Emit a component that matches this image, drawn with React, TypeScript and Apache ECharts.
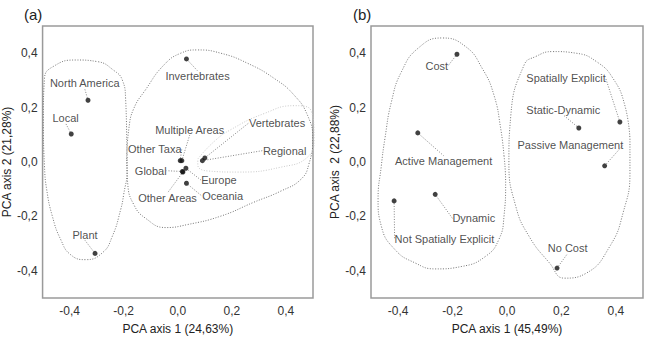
import React, { useEffect, useRef } from 'react';
import * as echarts from 'echarts';

// Panel (a)
const namesA = ['North America', 'Local', 'Plant', 'Invertebrates', 'Multiple Areas', 'Other Taxa', 'Global', 'Other Areas', 'Europe', 'Oceania', 'Vertebrates', 'Regional'];
const xA = [-0.332, -0.394, -0.306, 0.032, 0.015, 0.009, 0.017, 0.019, 0.030, 0.032, 0.100, 0.091];
const yA = [0.227, 0.103, -0.336, 0.379, 0.005, 0.005, -0.035, -0.037, -0.023, -0.078, 0.015, 0.005];

// Panel (b)
const namesB = ['Cost', 'Active Management', 'Dynamic', 'Not Spatially Explicit', 'Spatially Explicit', 'Static-Dynamic', 'Passive Management', 'No Cost'];
const xB = [-0.184, -0.328, -0.264, -0.415, 0.415, 0.264, 0.359, 0.184];
const yB = [0.396, 0.107, -0.119, -0.143, 0.147, 0.125, -0.014, -0.39];

const tickValues = [-0.4, -0.2, 0, 0.2, 0.4];
const xNameA = 'PCA axis 1 (24,63%)';
const yNameA = 'PCA axis 2 (21,28%)';
const xNameB = 'PCA axis 1 (45,49%)';
const yNameB = 'PCA axis  2 (22,88%)';

// hull outlines (data coordinates)
const hullA1 = [[-0.189, 0.085], [-0.187, -0.026], [-0.2, -0.119], [-0.211, -0.174], [-0.242, -0.273], [-0.279, -0.334], [-0.341, -0.359], [-0.396, -0.341], [-0.433, -0.285], [-0.464, -0.199], [-0.485, -0.1], [-0.493, -0.014], [-0.497, 0.159], [-0.493, 0.307], [-0.459, 0.352], [-0.378, 0.375], [-0.297, 0.369], [-0.237, 0.337], [-0.205, 0.301], [-0.193, 0.233]];
const hullA2 = [[-0.189, 0.011], [-0.181, 0.122], [-0.163, 0.196], [-0.119, 0.266], [-0.051, 0.357], [0.011, 0.4], [0.073, 0.412], [0.159, 0.4], [0.258, 0.363], [0.357, 0.307], [0.43, 0.246], [0.48, 0.171], [0.499, 0.085], [0.485, -0.007], [0.456, -0.063], [0.381, -0.107], [0.281, -0.148], [0.159, -0.199], [0.036, -0.23], [-0.044, -0.241], [-0.119, -0.207], [-0.163, -0.156], [-0.185, -0.081]];
const hullA3 = [[0.074, 0.011], [0.133, 0.074], [0.196, 0.119], [0.319, 0.178], [0.43, 0.207], [0.493, 0.189], [0.504, 0.085], [0.481, 0.019], [0.381, -0.019], [0.222, -0.037], [0.111, -0.033], [0.074, -0.011]];
const hullB1 = [[-0.011, 0.023], [-0.005, -0.075], [-0.011, -0.199], [-0.03, -0.285], [-0.079, -0.347], [-0.166, -0.384], [-0.264, -0.393], [-0.338, -0.371], [-0.412, -0.322], [-0.462, -0.236], [-0.474, -0.137], [-0.462, -0.014], [-0.449, 0.085], [-0.425, 0.221], [-0.388, 0.332], [-0.326, 0.419], [-0.24, 0.456], [-0.153, 0.425], [-0.091, 0.344], [-0.048, 0.246], [-0.023, 0.122]];
const hullB2 = [[0.452, 0.085], [0.452, -0.038], [0.427, -0.186], [0.378, -0.31], [0.291, -0.409], [0.211, -0.427], [0.156, -0.371], [0.081, -0.273], [0.032, -0.162], [0.007, -0.001], [0.014, 0.171], [0.063, 0.357], [0.106, 0.388], [0.168, 0.406], [0.254, 0.4], [0.329, 0.369], [0.39, 0.307], [0.433, 0.209]];

// label anchor positions (layout, in data units)
const labelPosA = [[-0.344, 0.289], [-0.415, 0.163], [-0.343, -0.268], [0.073, 0.315], [0.044, 0.119], [-0.085, 0.046], [-0.1, -0.032], [-0.038, -0.134], [0.152, -0.067], [0.166, -0.126], [0.367, 0.144], [0.395, 0.042]];
const labelPosB = [[-0.258, 0.354], [-0.233, 0.003], [-0.122, -0.207], [-0.23, -0.283], [0.217, 0.307], [0.207, 0.193], [0.233, 0.063], [0.223, -0.316]];

const FONT = '"Liberation Sans", Arial, sans-serif';

export default function App() {
  const ref = useRef<HTMLDivElement>(null);
  useEffect(() => {
    const chart = echarts.init(ref.current!, null, { renderer: 'svg' });
    const fmt = (v: number) => {
      const t = tickValues.find((k) => Math.abs(k - v) < 1e-6);
      return t === undefined ? '' : t.toFixed(1).replace('.', ',');
    };
    const xAxis = (gi: number, name: string) => ({
      gridIndex: gi, type: 'value', min: -0.5, max: 0.5, name, nameLocation: 'middle', nameGap: 25,
      nameTextStyle: { fontSize: 12, color: '#222', fontFamily: FONT },
      axisLine: { show: false }, axisTick: { show: false }, splitLine: { show: false },
      axisLabel: { formatter: fmt, fontSize: 12, color: '#333', margin: 7, fontFamily: FONT, showMinLabel: false, showMaxLabel: false },
    });
    const yAxis = (gi: number, name: string) => ({
      gridIndex: gi, type: 'value', min: -0.5, max: 0.5, name, nameLocation: 'middle', nameGap: 26, nameRotate: 90,
      nameTextStyle: { fontSize: 12, color: '#222', fontFamily: FONT },
      axisLine: { show: false }, axisTick: { show: false }, splitLine: { show: false },
      axisLabel: { formatter: fmt, fontSize: 12, color: '#333', margin: 5, fontFamily: FONT, showMinLabel: false, showMaxLabel: false },
    });
    const hull = (gi: number, pts: number[][], color: string) => ({
      type: 'line', xAxisIndex: gi, yAxisIndex: gi, data: [...pts, pts[0]], smooth: 0.5, symbol: 'none', silent: true,
      lineStyle: { type: [1, 1.6], color, width: 0.9 }, z: 1,
    });
    const points = (gi: number, names: string[], xs: number[], ys: number[], lpos: number[][]) => ({
      type: 'scatter', xAxisIndex: gi, yAxisIndex: gi, symbolSize: 5, itemStyle: { color: '#111' }, z: 3,
      data: names.map((n, i) => ({ name: n, value: [xs[i], ys[i]] })),
      label: { show: true, formatter: '{b}', fontSize: 11, color: '#222', fontFamily: FONT },
      labelLine: { show: true, lineStyle: { type: [1, 1.6], color: '#777', width: 0.9 } },
      labelLayout: (p: any) => {
        const pt = chart.convertToPixel({ gridIndex: gi } as any, lpos[p.dataIndex]) as number[];
        return { x: pt[0], y: pt[1], align: 'center', verticalAlign: 'middle' };
      },
    });
    chart.setOption({
      animation: false,
      textStyle: { fontFamily: FONT },
      title: [
        { text: '(a)', left: 19, top: 2, textStyle: { fontSize: 15, fontWeight: 'normal', color: '#222', fontFamily: FONT } },
        { text: '(b)', left: 348, top: 2, textStyle: { fontSize: 15, fontWeight: 'normal', color: '#222', fontFamily: FONT } },
      ],
      grid: [
        { left: 40, top: 26, width: 273, height: 272, show: true, borderColor: '#9a9a9a', borderWidth: 1.5, backgroundColor: 'transparent' },
        { left: 371, top: 26, width: 272, height: 272, show: true, borderColor: '#9a9a9a', borderWidth: 1.5, backgroundColor: 'transparent' },
      ],
      xAxis: [xAxis(0, xNameA), xAxis(1, xNameB)],
      yAxis: [yAxis(0, yNameA), yAxis(1, yNameB)],
      series: [
        hull(0, hullA1, '#666'),
        hull(0, hullA2, '#666'),
        hull(0, hullA3, '#c4c4c4'),
        hull(1, hullB1, '#666'),
        hull(1, hullB2, '#666'),
        points(0, namesA, xA, yA, labelPosA),
        points(1, namesB, xB, yB, labelPosB),
      ],
    });
    return () => chart.dispose();
  }, []);
  return <div ref={ref} style={{ position: 'fixed', left: 0, top: 0, width: 649, height: 342, background: '#fff' }} />;
}
